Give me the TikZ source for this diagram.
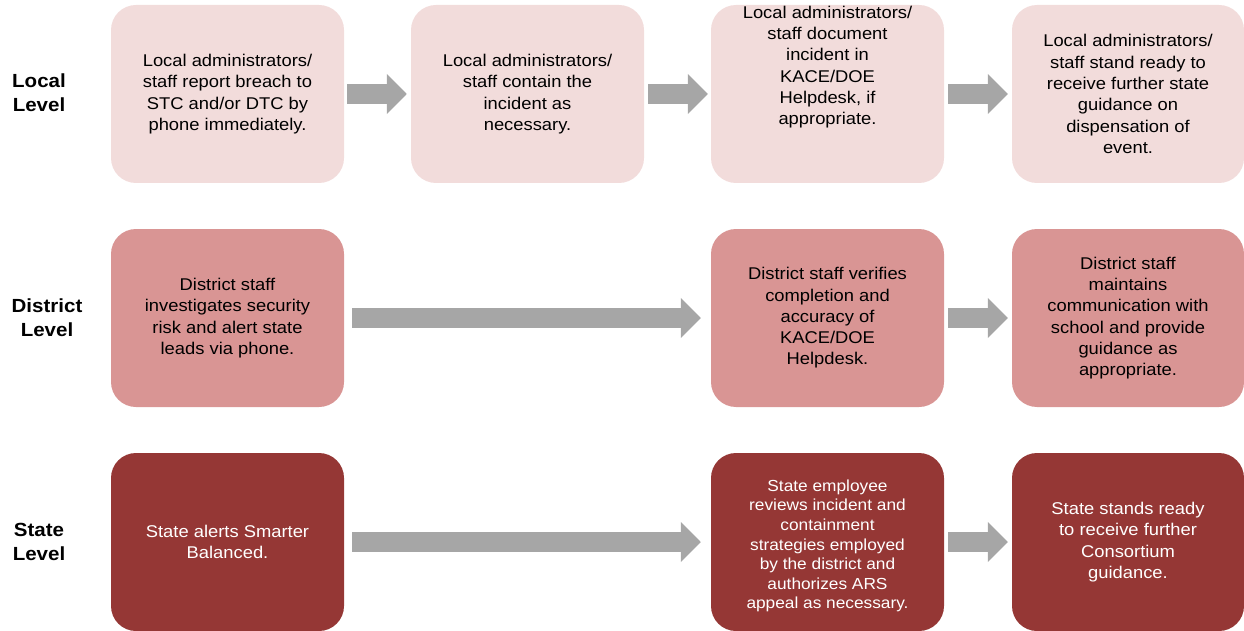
\documentclass[tikz,border=0pt]{standalone}
\usepackage{fontspec}
\setmainfont{Liberation Sans}
\newfontfamily\boxfont[FakeStretch=1.08]{Liberation Sans}
\usetikzlibrary{arrows.meta}
\definecolor{pinkA}{HTML}{F2DCDB}
\definecolor{pinkB}{HTML}{D99594}
\definecolor{redC}{HTML}{953735}
\definecolor{arrowgray}{HTML}{A6A6A6}
\tikzset{
  box/.style={rounded corners=25pt, minimum width=233pt, minimum height=178pt, inner sep=0pt, draw=none},
  boxtext/.style={align=center, font=\boxfont\fontsize{17}{21.3}\selectfont, inner sep=0pt},
  smalltext/.style={align=center, font=\boxfont\fontsize{16}{19.6}\selectfont, inner sep=0pt},
  level/.style={align=center, font=\boxfont\fontsize{19}{24}\selectfont\bfseries, inner sep=0pt},
  flow/.style={draw=arrowgray, line width=20pt, -{Triangle[length=20pt,width=39pt]}},
}
\begin{document}
\begin{tikzpicture}[x=1pt,y=-1pt]
\useasboundingbox (0,0) rectangle (1244,631);

% level labels
\node[level] (lv1) at (39,93) {Local\\Level};
\node[level] (lv2) at (47,318) {District\\Level};
\node[level] (lv3) at (39,542) {State\\Level};

% row 1
\node[box, fill=pinkA] (b11) at (227.5,94) {};
\node[box, fill=pinkA] (b12) at (527.5,94) {};
\node[box, fill=pinkA] (b13) at (827.5,94) {};
\node[box, fill=pinkA, minimum width=232pt] (b14) at (1128,94) {};
\node[boxtext] (t11) at (227.5,94) {Local administrators/\\staff report breach to\\STC and/or DTC by\\phone immediately.};
\node[boxtext] (t12) at (527.5,94) {Local administrators/\\staff contain the\\incident as\\necessary.};
\node[boxtext] (t13) at (827.5,67) {Local administrators/\\staff document\\incident in\\KACE/DOE\\Helpdesk, if\\appropriate.};
\node[boxtext] (t14) at (1128,94) {Local administrators/\\staff stand ready to\\receive further state\\guidance on\\dispensation of\\event.};

% row 2
\node[box, fill=pinkB] (b21) at (227.5,318) {};
\node[box, fill=pinkB] (b23) at (827.5,318) {};
\node[box, fill=pinkB, minimum width=232pt] (b24) at (1128,318) {};
\node[boxtext] (t21) at (227.5,318) {District staff\\investigates security\\risk and alert state\\leads via phone.};
\node[boxtext] (t23) at (827.5,318) {District staff verifies\\completion and\\accuracy of\\KACE/DOE\\Helpdesk.};
\node[boxtext] (t24) at (1128,318) {District staff\\maintains\\communication with\\school and provide\\guidance as\\appropriate.};

% row 3
\node[box, fill=redC] (b31) at (227.5,542) {};
\node[box, fill=redC] (b33) at (827.5,542) {};
\node[box, fill=redC, minimum width=232pt] (b34) at (1128,542) {};
\node[boxtext, text=white] (t31) at (227.5,542) {State alerts Smarter\\Balanced.};
\begin{scope}
  \clip (711,454) rectangle (944,611);
  \node[smalltext, text=white] (t33) at (827.5,546) {State employee\\reviews incident and\\containment\\strategies employed\\by the district and\\authorizes ARS\\appeal as necessary.};
\end{scope}
\node[boxtext, text=white] (t34) at (1128,542) {State stands ready\\to receive further\\Consortium\\guidance.};

% arrows
\draw[flow, shorten <=3pt, shorten >=4pt] (b11) -- (b12);
\draw[flow, shorten <=4pt, shorten >=3pt] (b12) -- (b13);
\draw[flow, shorten <=4pt, shorten >=4pt] (b13) -- (b14);
\draw[flow, shorten <=8pt, shorten >=10pt] (b21) -- (b23);
\draw[flow, shorten <=4pt, shorten >=4pt] (b23) -- (b24);
\draw[flow, shorten <=8pt, shorten >=10pt] (b31) -- (b33);
\draw[flow, shorten <=4pt, shorten >=4pt] (b33) -- (b34);
\end{tikzpicture}
\end{document}
